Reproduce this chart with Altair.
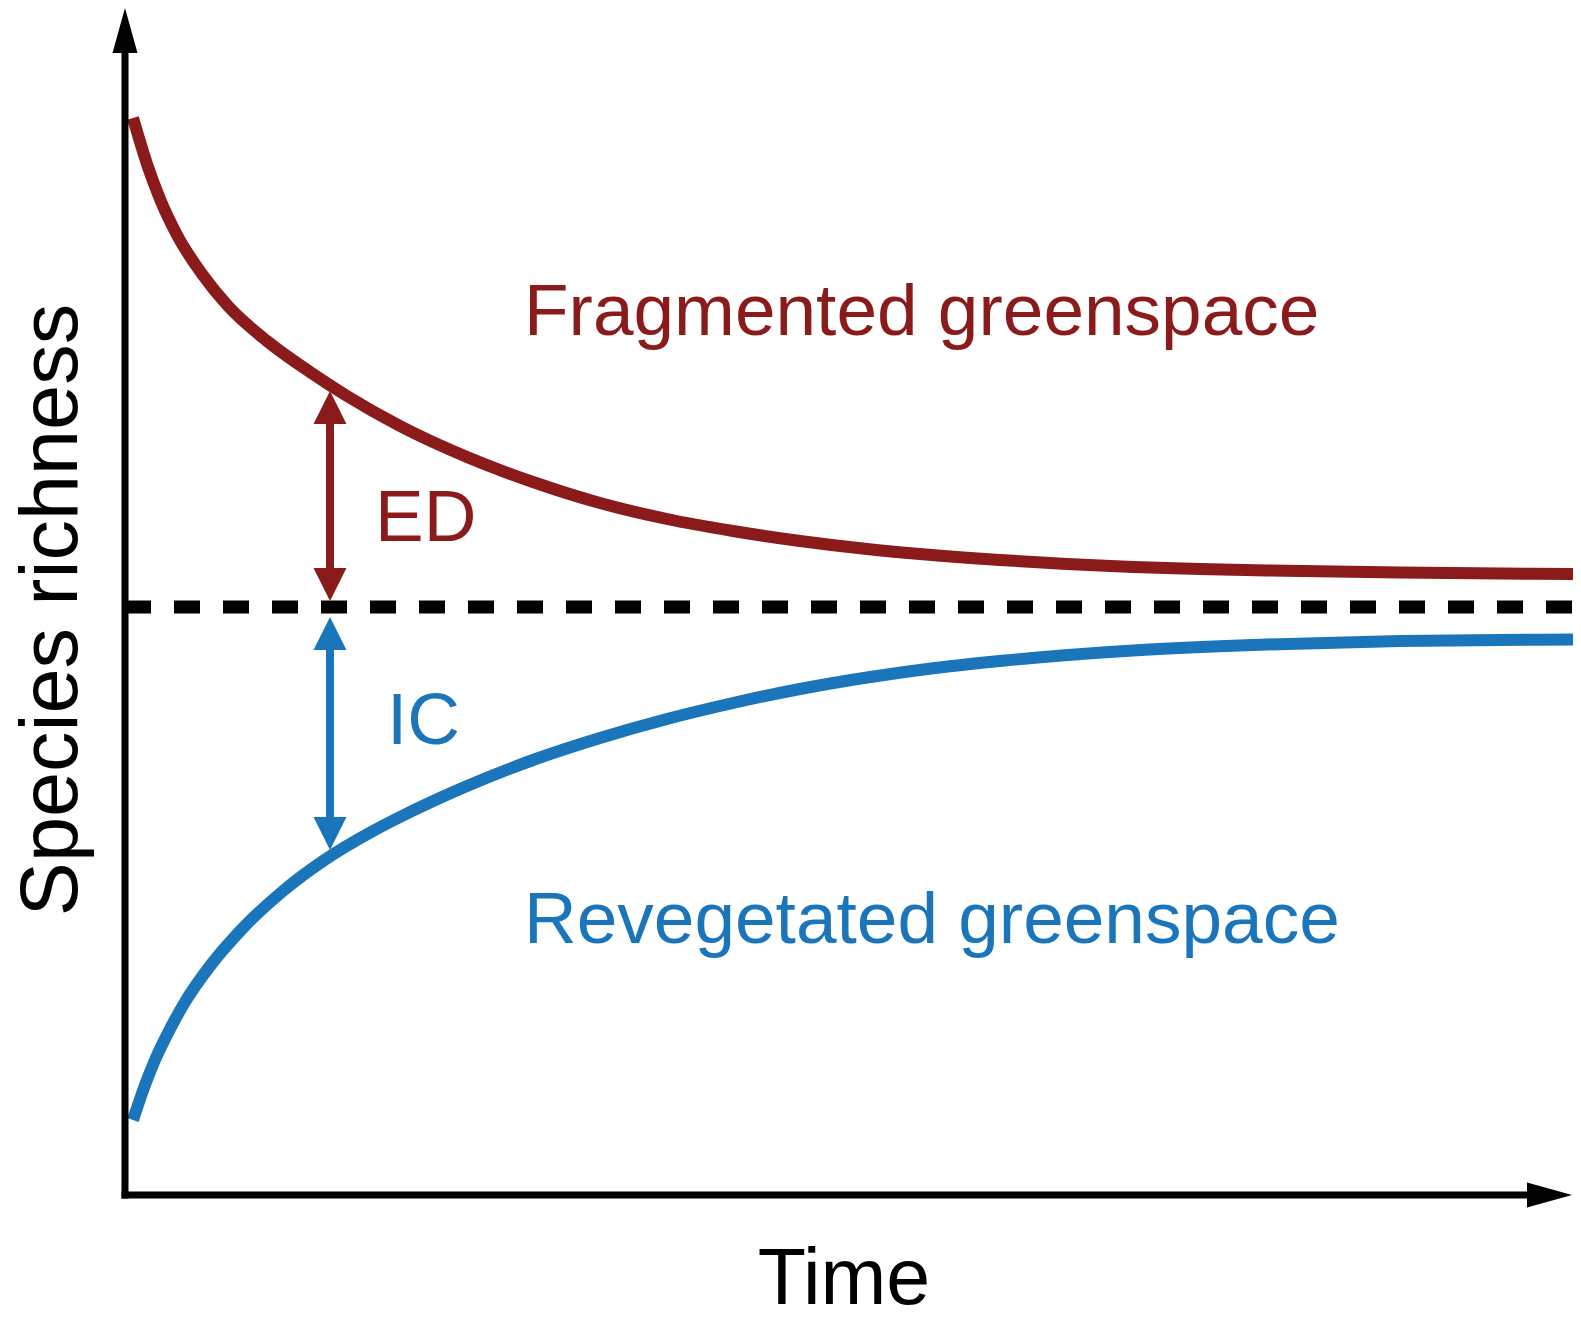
import altair as alt
import pandas as pd

RED = "#8B1A1A"
BLUE = "#1B75BB"
FONT = "Liberation Sans"

# Conceptual units: time (x) and species richness (y)
red_time = [0.8, 2.3, 3.5, 5.2, 7.7, 10.3, 14.2, 18.5, 22.2, 27.5, 34.2, 40.8, 47.5,
            54.2, 60.8, 67.5, 74.2, 79.5, 87.5, 94.2, 100.8, 107.5, 114.2, 127.5, 144.8]
red_rich = [107.7, 102.8, 99.6, 96.0, 92.1, 88.9, 85.4, 82.3, 79.9, 76.9, 73.8, 71.3, 69.2,
            67.6, 66.4, 65.4, 64.6, 64.1, 63.5, 63.1, 62.8, 62.6, 62.45, 62.25, 62.1]

blue_time = [0.8, 2.0, 3.0, 4.5, 6.0, 8.5, 11.8, 15.8, 19.8, 24.8, 27.5, 34.2, 40.8, 47.5,
             54.2, 60.8, 67.5, 74.2, 81.0, 88.0, 100.8, 114.2, 127.5, 144.8]
blue_rich = [7.5, 11.0, 13.5, 16.6, 19.3, 22.9, 26.7, 30.4, 33.4, 36.4, 37.8, 40.9, 43.5, 45.7,
             47.6, 49.2, 50.6, 51.75, 52.7, 53.45, 54.45, 55.05, 55.4, 55.55]

baseline_rich = 58.8
time_max = 144.7
rich_max = 118.7

arrow_names = ["ED", "IC"]
arrow_time = [20.5, 20.5]
arrow_top = [80.4, 57.8]
arrow_bottom = [59.4, 34.5]
arrow_colors = [RED, BLUE]

label_text = ["Fragmented greenspace", "Revegetated greenspace", "ED", "IC"]
label_time = [39.9, 39.9, 25.0, 26.2]
label_rich = [86.0, 25.2, 65.4, 45.1]
label_colors = [RED, BLUE, RED, BLUE]

x_title = "Time"
y_title = "Species richness"

xs = alt.Scale(domain=[-11.7, 144.8], nice=False, zero=False)
ys = alt.Scale(domain=[-13.0, 118.7], nice=False, zero=False)

def X(f="t"):
    return alt.X(f"{f}:Q", scale=xs, axis=None)

def Y(f="r"):
    return alt.Y(f"{f}:Q", scale=ys, axis=None)

red_df = pd.DataFrame({"t": red_time, "r": red_rich})
blue_df = pd.DataFrame({"t": blue_time, "r": blue_rich})
base_df = pd.DataFrame({"t": [0.0], "t2": [time_max], "r": [baseline_rich]})
arrow_df = pd.DataFrame({"name": arrow_names, "t": arrow_time, "top": arrow_top,
                         "bottom": arrow_bottom, "color": arrow_colors})
label_df = pd.DataFrame({"text": label_text, "t": label_time, "r": label_rich,
                         "color": label_colors})
axis_line_df = pd.DataFrame({"t": [0.0, -0.35], "t2": [0.0, time_max - 3.0],
                             "r": [-0.35, 0.0], "r2": [rich_max - 3.0, 0.0]})
axis_head_df = pd.DataFrame({"t": [0.0, time_max], "r": [rich_max, 0.0], "dir": ["up", "right"]})
xtitle_df = pd.DataFrame({"text": [x_title], "t": [71.9], "r": [-10.9]})
ytitle_df = pd.DataFrame({"text": [y_title], "t": [-4.8], "r": [58.5]})

red_line = alt.Chart(red_df).mark_line(color=RED, strokeWidth=12, interpolate="monotone").encode(
    x=X(), y=Y())
blue_line = alt.Chart(blue_df).mark_line(color=BLUE, strokeWidth=12, interpolate="monotone").encode(
    x=X(), y=Y())
base_line = alt.Chart(base_df).mark_rule(color="black", strokeWidth=13, strokeDash=[26, 23]).encode(
    x=X(), x2="t2:Q", y=Y())

shafts = alt.Chart(arrow_df).mark_rule(strokeWidth=8, yOffset=18, y2Offset=-18).encode(
    x=X(), y=Y("top"), y2="bottom:Q", color=alt.Color("color:N", scale=None))
heads_up = alt.Chart(arrow_df).mark_point(shape="M0,0L1,2L-1,2Z", size=1089, filled=True,
                                          opacity=1, strokeWidth=0).encode(
    x=X(), y=Y("top"), color=alt.Color("color:N", scale=None))
heads_down = alt.Chart(arrow_df).mark_point(shape="M0,0L1,-2L-1,-2Z", size=1089, filled=True,
                                            opacity=1, strokeWidth=0).encode(
    x=X(), y=Y("bottom"), color=alt.Color("color:N", scale=None))

axis_lines = alt.Chart(axis_line_df).mark_rule(color="black", strokeWidth=7).encode(
    x=X(), x2="t2:Q", y=Y(), y2="r2:Q")
axis_heads = alt.Chart(axis_head_df).mark_point(size=625, filled=True, opacity=1, strokeWidth=0,
                                                color="black").encode(
    x=X(), y=Y(),
    shape=alt.Shape("dir:N", scale=alt.Scale(domain=["up", "right"],
                                             range=["M0,0L1,3.6L-1,3.6Z", "M0,0L-3.6,-1L-3.6,1Z"]),
                    legend=None))

labels = alt.Chart(label_df).mark_text(font=FONT, fontSize=73, align="left", baseline="alphabetic").encode(
    x=X(), y=Y(), text="text:N", color=alt.Color("color:N", scale=None))
xtitle = alt.Chart(xtitle_df).mark_text(font=FONT, fontSize=79, align="center", baseline="alphabetic",
                                        color="black").encode(x=X(), y=Y(), text="text:N")
ytitle = alt.Chart(ytitle_df).mark_text(font=FONT, fontSize=81, align="center", baseline="alphabetic",
                                        angle=270, color="black").encode(x=X(), y=Y(), text="text:N")

chart = alt.layer(
    red_line, blue_line, base_line, shafts, heads_up, heads_down,
    axis_lines, axis_heads, labels, xtitle, ytitle
).properties(
    width=1565, height=1317, padding=0,
    autosize=alt.AutoSizeParams(type="none"),
    background="white",
).configure_view(stroke=None)

chart.save("out.html", embed_options={"renderer": "svg", "actions": False})
